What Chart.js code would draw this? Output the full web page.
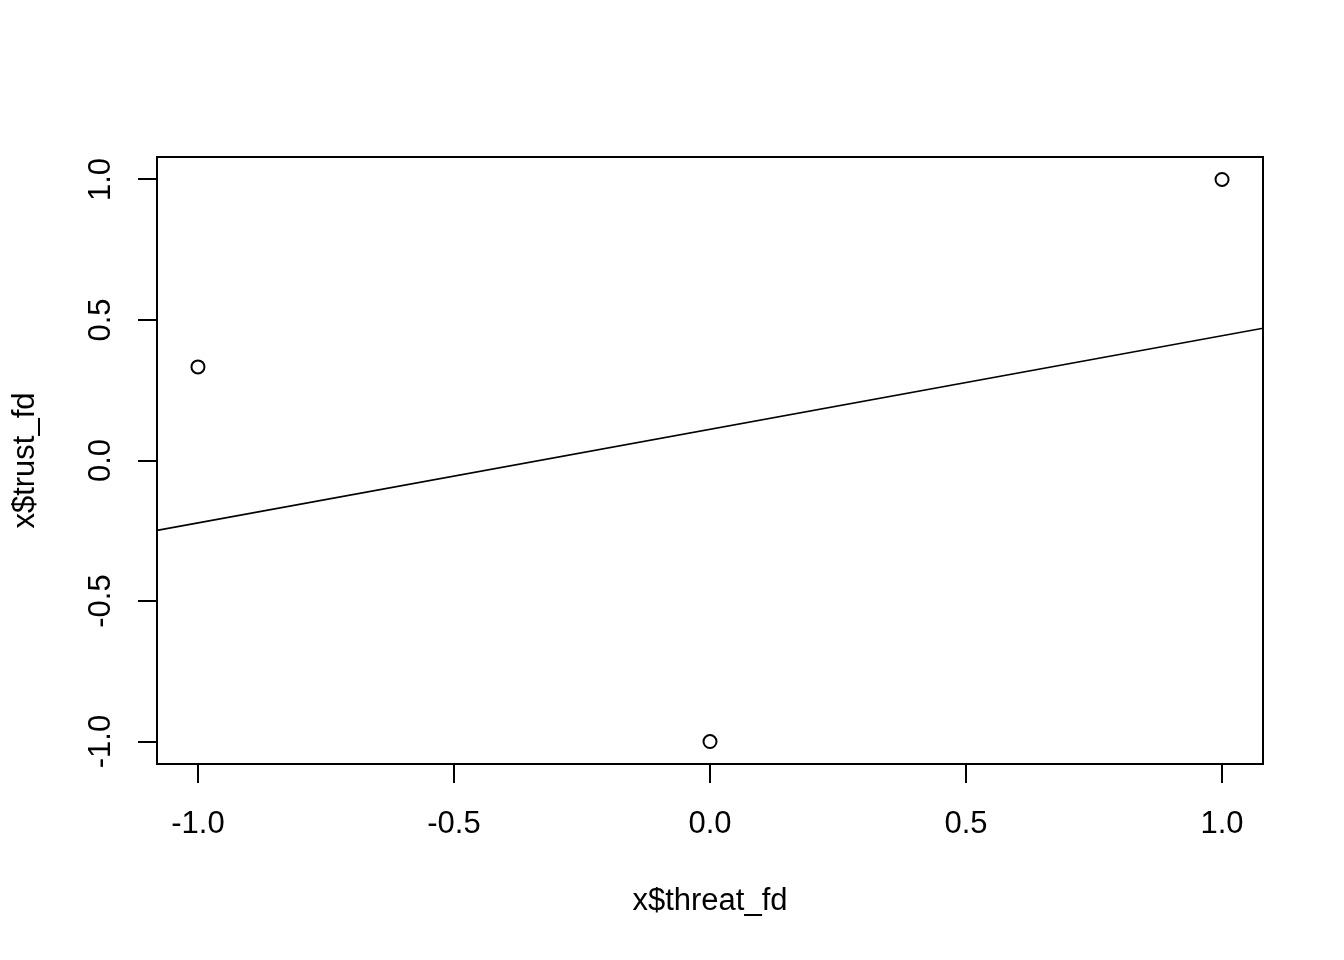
<!DOCTYPE html>
<html>
<head>
<meta charset="utf-8">
<script src="https://cdn.jsdelivr.net/npm/chart.js@4"></script>
<style>
html,body{margin:0;padding:0;background:#fff;}
canvas{display:block;}
</style>
</head>
<body>
<canvas id="c" width="1344" height="960"></canvas>
<script>
// Data
const threatFd = [-1, 0, 1];
const trustFd = [0.333, -1, 1];
const xTickValues = [-1.0, -0.5, 0.0, 0.5, 1.0];
const yTickValues = [-1.0, -0.5, 0.0, 0.5, 1.0];
const xTitle = 'x$threat_fd';
const yTitle = 'x$trust_fd';
// fitted line (abline)
const lineIntercept = 0.111;
const lineSlope = 0.333;
const xRange = [-1.08, 1.08];
const yRange = [-1.08, 1.08];

const FONT = '"Liberation Sans", Arial, sans-serif';
const FS = 31;

const points = threatFd.map((x, i) => ({x: x, y: trustFd[i]}));
const linePts = xRange.map(x => ({x: x, y: lineIntercept + lineSlope * x}));

const boxPlugin = {
  id: 'box',
  afterDatasetsDraw(chart) {
    const a = chart.chartArea, ctx = chart.ctx;
    ctx.save();
    ctx.strokeStyle = '#000';
    ctx.lineWidth = 2;
    ctx.strokeRect(a.left, a.top, a.right - a.left, a.bottom - a.top);
    ctx.restore();
  }
};

new Chart(document.getElementById('c'), {
  type: 'scatter',
  data: {
    datasets: [
      {
        type: 'scatter',
        data: points,
        pointStyle: 'circle',
        pointRadius: 6.5,
        pointHoverRadius: 6.5,
        borderColor: '#000',
        backgroundColor: 'rgba(0,0,0,0)',
        borderWidth: 2
      },
      {
        type: 'line',
        data: linePts,
        borderColor: '#000',
        borderWidth: 1.6,
        pointRadius: 0,
        fill: false,
        tension: 0
      }
    ]
  },
  plugins: [boxPlugin],
  options: {
    responsive: false,
    animation: false,
    devicePixelRatio: 1,
    layout: {padding: {top: 157, right: 81, bottom: 0, left: 0}},
    plugins: {legend: {display: false}, tooltip: {enabled: false}},
    scales: {
      x: {
        type: 'linear',
        position: 'bottom',
        min: xRange[0], max: xRange[1],
        afterBuildTicks(s) { s.ticks = xTickValues.map(v => ({value: v})); },
        afterFit(s) { s.height = 196; },
        grid: {drawOnChartArea: false, drawTicks: true, tickLength: 19, color: '#000', lineWidth: 2},
        border: {display: true, color: '#000', width: 2},
        ticks: {
          color: '#000', font: {family: FONT, size: FS}, padding: 23,
          maxRotation: 0, minRotation: 0, autoSkip: false,
          callback: v => Number(v).toFixed(1)
        },
        title: {display: true, text: xTitle, color: '#000', font: {family: FONT, size: FS}, padding: {top: 0, bottom: 40}}
      },
      y: {
        type: 'linear',
        position: 'left',
        min: yRange[0], max: yRange[1],
        afterBuildTicks(s) { s.ticks = yTickValues.map(v => ({value: v})); },
        afterFit(s) { s.width = 157; },
        grid: {drawOnChartArea: false, drawTicks: true, tickLength: 19, color: '#000', lineWidth: 2},
        border: {display: true, color: '#000', width: 2},
        ticks: {
          color: '#000', font: {family: FONT, size: FS}, padding: 10,
          minRotation: 90, maxRotation: 90, crossAlign: 'center', autoSkip: false,
          callback: v => Number(v).toFixed(1)
        },
        title: {display: true, text: yTitle, color: '#000', font: {family: FONT, size: FS}, padding: {top: 7, bottom: 0}}
      }
    }
  }
});
</script>
</body>
</html>
